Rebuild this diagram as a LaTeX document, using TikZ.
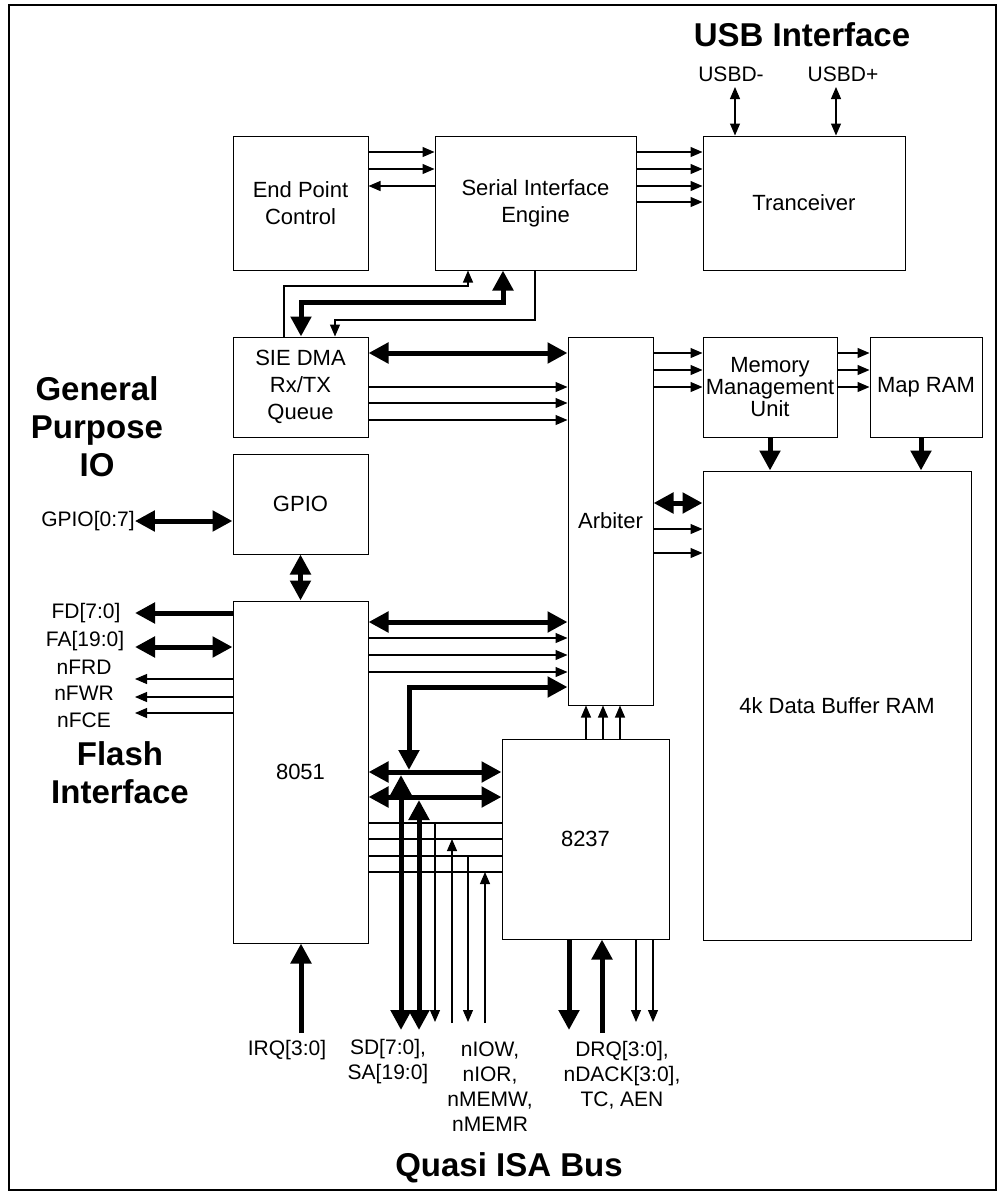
\documentclass[tikz,border=0pt]{standalone}
\usepackage{fontspec}
\setmainfont{Liberation Sans}
\usetikzlibrary{arrows.meta,positioning,calc}

\begin{document}
\begin{tikzpicture}[
      x=1pt, y=-1pt,
      every node/.style={font=\fontsize{22}{27}\selectfont, align=center, inner sep=0pt},
      blk/.style 2 args={draw, line width=1pt, minimum width=#1, minimum height=#2},
      lbl/.style={font=\fontsize{21}{25}\selectfont},
      ttl/.style={font=\bfseries\fontsize{33}{38}\selectfont},
      thinTip/.tip={Triangle[length=12pt, width=10pt]},
      thickTip/.tip={Triangle[length=20pt, width=20pt]},
      thinL/.style={line width=1.1pt},
      thinA/.style={line width=1.1pt, -thinTip},
      thinAA/.style={line width=1.1pt, thinTip-thinTip},
      thickA/.style={line width=5pt, -thickTip},
      thickAA/.style={line width=5pt, thickTip-thickTip}
    ]
  \useasboundingbox[fill=white] (0,0) rectangle (998,1192);
  \draw[line width=2pt] (9,5) rectangle (996,1190);

  % --- Bloecke ---
  \node[blk={135pt}{134pt}] (epc)  at (300.5,203) {End Point\\Control};
  \node[blk={201pt}{134pt}] (sie)  at (535.5,203) {Serial Interface\\Engine};
  \node[blk={202pt}{134pt}] (trx)  at (804,203)   {Tranceiver};
  \node[blk={135pt}{100pt}] (dma)  at (300.5,387) {SIE DMA\\Rx/TX\\Queue};
  \node[blk={135pt}{100pt}] (gpio) at (300.5,504) {GPIO};
  \node[blk={85pt}{368pt}]  (arb)  at (610.5,521) {Arbiter};
  \node[blk={134pt}{100pt}, font=\fontsize{22}{22}\selectfont] (mmu) at (770,387) {Memory\\Management\\Unit};
  \node[blk={112pt}{100pt}] (map)  at (926,387)   {Map RAM};
  \node[blk={268pt}{469pt}] (buf)  at (837,705.5) {4k Data Buffer RAM};
  \node[blk={135pt}{342pt}] (cpu)  at (300.5,772) {8051};
  \node[blk={167pt}{200pt}] (dmac) at (585.5,839) {8237};

  % --- Ueberschriften ---
  \node[ttl] (usbT) at (802,35)   {USB Interface};
  \node[ttl] (gpT)  at (97,427)   {General\\Purpose\\IO};
  \node[ttl] (flT)  at (120,773)  {Flash\\Interface};
  \node[ttl] (isaT) at (509,1168) {Quasi ISA Bus};

  % --- Signalnamen ---
  \node[lbl] (usbm)  at (731,74)   {USBD-};
  \node[lbl] (usbp)  at (843,74)   {USBD+};
  \node[lbl] (gpioL) at (88,521)   {GPIO[0:7]};
  \node[lbl] (fdL)   at (86,613)   {FD[7:0]};
  \node[lbl] (faL)   at (85,641)   {FA[19:0]};
  \node[lbl] (frdL)  at (84,667)   {nFRD};
  \node[lbl] (fwrL)  at (84,693)   {nFWR};
  \node[lbl] (fceL)  at (84,720)   {nFCE};
  \node[lbl] (irqL)  at (287,1050) {IRQ[3:0]};
  \node[lbl] (sdL)   at (388,1062) {SD[7:0],\\SA[19:0]};
  \node[lbl] (ctlL)  at (490,1087) {nIOW,\\nIOR,\\nMEMW,\\nMEMR};
  \node[lbl] (drqL)  at (622,1075) {DRQ[3:0],\\nDACK[3:0],\\TC, AEN};

  % freie Enden
  \coordinate (usbmP) at (735,87);
  \coordinate (usbpP) at (836,87);
  \foreach \n/\y in {fdP/613, faP/647, frdP/679, fwrP/697, fceP/713}
    \coordinate (\n) at (135,\y);
  \coordinate (busTap) at (409,770);
  \foreach \n/\y in {ctl1/823, ctl2/839, ctl3/856, ctl4/872}
    \coordinate (\n) at (0,\y);
  \coordinate (sdP)   at (401,1030);
  \coordinate (saP)   at (419,1030);
  \coordinate (iowP)  at (435,1022);
  \coordinate (iorP)  at (452,1023);
  \coordinate (mmwP)  at (468,1022);
  \coordinate (mmrP)  at (485,1023);
  \coordinate (irqP)  at (301,1033);
  \coordinate (drqP)  at (569,1030);
  \coordinate (dackP) at (602,1033);
  \coordinate (tcP)   at (636,1022);
  \coordinate (aenP)  at (653,1022);

  % --- USB-Seite ---
  \draw[thinAA] (usbmP) -- (usbmP |- trx.north);
  \draw[thinAA] (usbpP) -- (usbpP |- trx.north);
  \foreach \y in {152,169} \draw[thinA] (epc.east |- 0,\y) -- (sie.west |- 0,\y);
  \draw[thinA] (sie.west |- 0,186) -- (epc.east |- 0,186);
  \foreach \y in {152,169,186,202} \draw[thinA] (sie.east |- 0,\y) -- (trx.west |- 0,\y);

  % SIE <-> DMA
  \draw[thinA] (dma.north -| 284,0) -- (284,286) -- (468,286) -- (sie.south -| 468,0);
  \draw[thickAA] (sie.south -| 503,0) -- (503,302) -- (301,302) -- (dma.north -| 301,0);
  \draw[thinA] (sie.south -| 535,0) -- (535,320) -- (335,320) -- (dma.north -| 335,0);

  % DMA / Arbiter / MMU / Map RAM
  \draw[thickAA] (dma.east |- 0,353) -- (arb.west |- 0,353);
  \foreach \y in {387,403,420} \draw[thinA] (dma.east |- 0,\y) -- (arb.west |- 0,\y);
  \foreach \y in {353,370,387} {
    \draw[thinA] (arb.east |- 0,\y) -- (mmu.west |- 0,\y);
    \draw[thinA] (mmu.east |- 0,\y) -- (map.west |- 0,\y);
  }
  \draw[thickA] (mmu.south) -- (mmu.south |- buf.north);
  \draw[thickA] (map.south -| 921,0) -- (buf.north -| 921,0);
  \draw[thickAA] (arb.east |- 0,503) -- (buf.west |- 0,503);
  \foreach \y in {529,553} \draw[thinA] (arb.east |- 0,\y) -- (buf.west |- 0,\y);

  % --- GPIO und Flash ---
  \draw[thickAA] (gpioL.east) -- (gpio.west |- gpioL.east);
  \draw[thickAA] (gpio.south) -- (cpu.north);
  \draw[thickA] (cpu.west |- fdP) -- (fdP);
  \draw[thickAA] (faP) -- (cpu.west |- faP);
  \foreach \p in {frdP,fwrP,fceP} \draw[thinA] (cpu.west |- \p) -- (\p);

  % --- 8051 <-> Arbiter ---
  \draw[thickAA] (cpu.east |- 0,622) -- (arb.west |- 0,622);
  \foreach \y in {638,655,672} \draw[thinA] (cpu.east |- 0,\y) -- (arb.west |- 0,\y);
  \draw[thickAA] (busTap) -- (409,687) -- (arb.west |- 0,687);

  % --- Quasi ISA Bus ---
  \draw[thickAA] (cpu.east |- 0,772) -- (dmac.west |- 0,772);
  \draw[thickAA] (cpu.east |- 0,797) -- (dmac.west |- 0,797);
  \draw[thickAA] (sdP) -- (401,775);
  \draw[thickAA] (saP) -- (419,800);
  \foreach \c in {ctl1,ctl2,ctl3,ctl4} \draw[thinL] (cpu.east |- \c) -- (dmac.west |- \c);
  \draw[thinA] (iowP |- ctl1) -- (iowP);
  \draw[thinA] (iorP) -- (iorP |- ctl2);
  \draw[thinA] (mmwP |- ctl3) -- (mmwP);
  \draw[thinA] (mmrP) -- (mmrP |- ctl4);
  \draw[thickA] (irqP) -- (irqP |- cpu.south);

  % --- 8237 ---
  \foreach \x in {586,603,620} \draw[thinA] (dmac.north -| \x,0) -- (arb.south -| \x,0);
  \draw[thickA] (dmac.south -| drqP) -- (drqP);
  \draw[thickA] (dackP) -- (dackP |- dmac.south);
  \draw[thinA] (dmac.south -| tcP) -- (tcP);
  \draw[thinA] (dmac.south -| aenP) -- (aenP);
\end{tikzpicture}
\end{document}
